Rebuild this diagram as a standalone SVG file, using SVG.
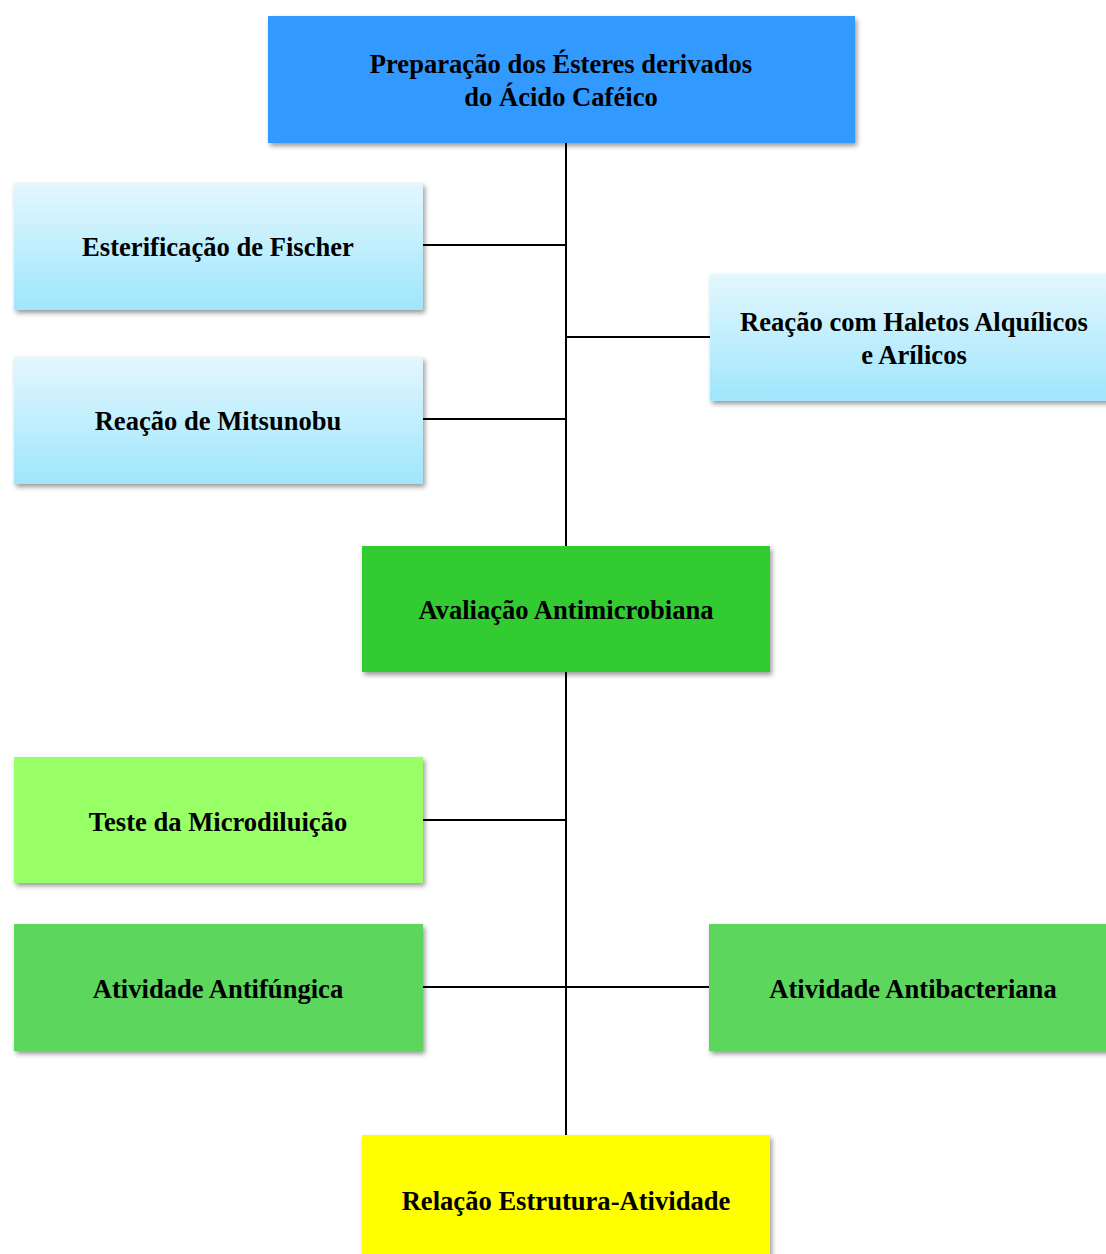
<svg xmlns="http://www.w3.org/2000/svg" width="1106" height="1254" viewBox="0 0 1106 1254">
<style>
text{font-family:"Liberation Serif","Times New Roman",serif;font-weight:bold;font-size:26.6px;fill:#000;text-anchor:middle}
.c{stroke:#000;stroke-width:2;fill:none}
.n{filter:url(#sh)}
</style>
<defs>
<filter id="sh" x="-5%" y="-10%" width="115%" height="130%">
<feDropShadow dx="2" dy="3" stdDeviation="2.5" flood-color="#000" flood-opacity="0.4"/>
</filter>
<linearGradient id="lb" x1="0" y1="0" x2="0" y2="1">
<stop offset="0" stop-color="#E3F7FE"/>
<stop offset="1" stop-color="#9FE6FC"/>
</linearGradient>
</defs>
<g id="connectors">
<path class="c" d="M566 143V546M423 245H566M566 337H710M423 419H566"/>
<path class="c" d="M566 672V1135M423 820H566M423 987H709"/>
</g>
<g id="n1"><rect class="n" x="268" y="16" width="587" height="127" fill="#3399FF"/><text x="561" y="73">Preparação dos Ésteres derivados</text><text x="561" y="106">do Ácido Caféico</text></g>
<g id="n2"><rect class="n" x="14" y="183" width="409" height="127" fill="url(#lb)"/><text x="218" y="256">Esterificação de Fischer</text></g>
<g id="n3"><rect class="n" x="710" y="274" width="400" height="127" fill="url(#lb)"/><text x="914" y="331">Reação com Haletos Alquílicos</text><text x="914" y="364">e Arílicos</text></g>
<g id="n4"><rect class="n" x="14" y="357" width="409" height="127" fill="url(#lb)"/><text x="218" y="430">Reação de Mitsunobu</text></g>
<g id="n5"><rect class="n" x="362" y="546" width="408" height="126" fill="#33CC33"/><text x="566" y="619">Avaliação Antimicrobiana</text></g>
<g id="n6"><rect class="n" x="14" y="757" width="409" height="126" fill="#99FF66"/><text x="218" y="831">Teste da Microdiluição</text></g>
<g id="n7"><rect class="n" x="14" y="924" width="409" height="127" fill="#5CD65C"/><text x="218" y="998">Atividade Antifúngica</text></g>
<g id="n8"><rect class="n" x="709" y="924" width="401" height="127" fill="#5CD65C"/><text x="913" y="998">Atividade Antibacteriana</text></g>
<g id="n9"><rect class="n" x="362" y="1135" width="408" height="125" fill="#FFFF00"/><text x="566" y="1210">Relação Estrutura-Atividade</text></g>
</svg>
